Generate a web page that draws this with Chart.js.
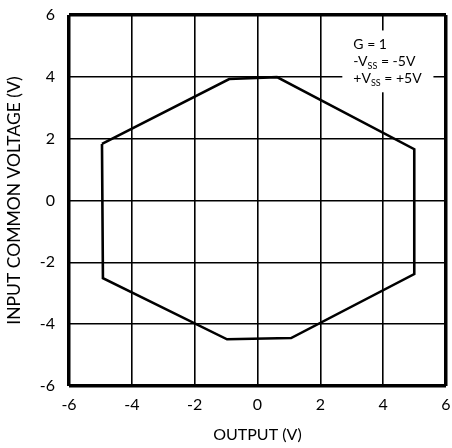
<!DOCTYPE html>
<html>
<head>
<meta charset="utf-8">
<script src="https://cdn.jsdelivr.net/npm/chart.js@4.4.1/dist/chart.umd.min.js"></script>
<style>
  html, body { margin: 0; padding: 0; background: #fff; }
  #wrap { width: 452px; height: 448px; position: relative; }
</style>
</head>
<body>
<div id="wrap"><canvas id="chart"></canvas></div>
<script>
// common-mode range outline (closed polygon)
const outputV  = [-4.95, -0.90, 0.62, 4.99, 4.99, 1.07, -0.97, -4.92, -4.95];
const inputCmV = [ 1.83,  3.93, 3.99, 1.66, -2.38, -4.45, -4.49, -2.51, 1.83];

const xTicks = [-6, -4, -2, 0, 2, 4, 6];
const yTicks = [-6, -4, -2, 0, 2, 4, 6];

// note lines: [text, subscript, rest]
const noteLines = [
  ['G = 1', '', ''],
  ['-V', 'SS', ' = -5V'],
  ['+V', 'SS', ' = +5V']
];

const FONT = 'Lato, "DejaVu Sans", sans-serif';

const notePlugin = {
  id: 'note',
  afterDraw(chart) {
    const { ctx, scales: { x, y } } = chart;
    const left = x.getPixelForValue(2.7), right = x.getPixelForValue(5.6);
    const top = y.getPixelForValue(5.5), bottom = y.getPixelForValue(3.5);
    ctx.save();
    ctx.fillStyle = '#fff';
    ctx.fillRect(left, top, right - left, bottom - top);
    ctx.fillStyle = '#000';
    ctx.textBaseline = 'alphabetic';
    let ty = y.getPixelForValue(4.9);
    const tx = x.getPixelForValue(3.05);
    noteLines.forEach(([a, sub, b]) => {
      let cx = tx;
      ctx.font = '14px ' + FONT;
      ctx.fillText(a, cx, ty);
      cx += ctx.measureText(a).width;
      if (sub) {
        ctx.font = '9px ' + FONT;
        ctx.fillText(sub, cx, ty + 3);
        cx += ctx.measureText(sub).width;
      }
      ctx.font = '14px ' + FONT;
      ctx.fillText(b, cx, ty);
      ty += 17;
    });
    ctx.restore();
  }
};

const edgeWidth = c => (Math.abs(c.tick.value) === 6 ? 3.5 : 1.6);
// keep the plot box where the layout padding puts it
const noOverhang = s => { s.paddingTop = s.paddingBottom = s.paddingLeft = s.paddingRight = 0; };

new Chart(document.getElementById('chart'), {
  type: 'scatter',
  data: {
    datasets: [{
      data: outputV.map((v, i) => ({ x: v, y: inputCmV[i] })),
      showLine: true,
      borderColor: '#000',
      borderWidth: 2.6,
      pointRadius: 0,
      fill: false
    }]
  },
  options: {
    responsive: true,
    maintainAspectRatio: false,
    animation: false,
    layout: { padding: { top: 15, right: 6, left: 0, bottom: 0 } },
    plugins: { legend: { display: false }, tooltip: { enabled: false } },
    scales: {
      x: {
        type: 'linear', min: -6, max: 6,
        afterBuildTicks: s => { s.ticks = xTicks.map(v => ({ value: v })); },
        afterFit: s => { s.height = 62; noOverhang(s); },
        grid: { color: '#000', lineWidth: edgeWidth, drawTicks: false },
        border: { display: false },
        ticks: { color: '#000', padding: 9, font: { family: FONT, size: 16 } },
        title: { display: true, text: 'OUTPUT (V)', color: '#000', padding: { top: 4 },
                 font: { family: FONT, size: 16 } }
      },
      y: {
        type: 'linear', min: -6, max: 6,
        afterBuildTicks: s => { s.ticks = yTicks.map(v => ({ value: v })); },
        afterFit: s => { s.width = 69; noOverhang(s); },
        grid: { color: '#000', lineWidth: edgeWidth, drawTicks: false },
        border: { display: false },
        ticks: { color: '#000', padding: 14, font: { family: FONT, size: 16 } },
        title: { display: true, text: 'INPUT COMMON VOLTAGE (V)', color: '#000', padding: { bottom: 0 },
                 font: { family: FONT, size: 17.5 } }
      }
    }
  },
  plugins: [notePlugin]
});
</script>
</body>
</html>
